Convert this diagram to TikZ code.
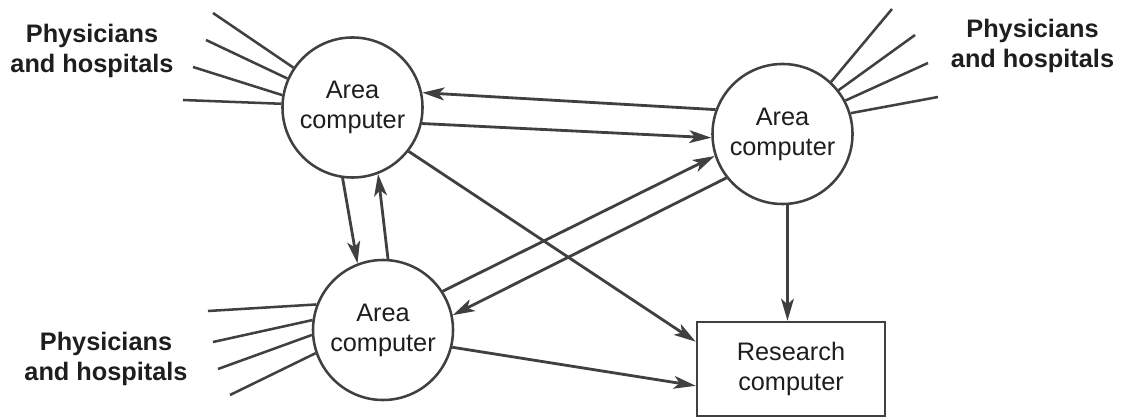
\documentclass[tikz,border=0pt]{standalone}
\usepackage{fontspec}
\setmainfont{Liberation Sans}
\usetikzlibrary{arrows.meta}
\definecolor{ln}{HTML}{404040}
\definecolor{tx}{HTML}{1E1E1E}
\begin{document}
\begin{tikzpicture}[x=0.025cm,y=-0.025cm,
  every node/.style={font=\fontsize{18}{21.3}\selectfont, text=tx, align=center, inner sep=0pt},
  area/.style={circle, draw=ln, line width=1.8pt, minimum size=3.5cm, fill=white},
  research/.style={rectangle, draw=ln, line width=1.8pt, minimum width=4.7cm, minimum height=2.35cm},
  lbl/.style={font=\bfseries\fontsize{18}{21.3}\selectfont},
  fan/.style={draw=ln, line width=1.8pt},
  arr/.style={draw=ln, line width=2pt, -{Stealth[length=0.55cm,width=0.32cm,inset=0.14cm]}}]
\useasboundingbox (0,0) rectangle (1122,418);

\node[area] (A) at (352.5,107.5) {Area\\computer};
\node[area] (B) at (782.5,134) {Area\\computer};
\node[area] (C) at (383,330) {Area\\computer};
\node[research] (R) at (791,369) {Research\\computer};

\node[lbl] (LA) at (92,50.6) {Physicians\\and hospitals};
\node[lbl] (LB) at (1032.5,45.6) {Physicians\\and hospitals};
\node[lbl] (LC) at (106,358.6) {Physicians\\and hospitals};

\coordinate (a1) at (213,13);
\coordinate (a2) at (206,40);
\coordinate (a3) at (193,67);
\coordinate (a4) at (183,100);
\coordinate (b1) at (892,9);
\coordinate (b2) at (915,35);
\coordinate (b3) at (928,63);
\coordinate (b4) at (938,97);
\coordinate (c1) at (208,311);
\coordinate (c2) at (213,342);
\coordinate (c3) at (218,369);
\coordinate (c4) at (230,395);

\draw[fan] (a1) -- (A.146);
\draw[fan] (a2) -- (A.156);
\draw[fan] (a3) -- (A.170);
\draw[fan] (a4) -- (A.177);
\draw[fan] (b1) -- (B.47);
\draw[fan] (b2) -- (B.38);
\draw[fan] (b3) -- (B.28);
\draw[fan] (b4) -- (B.17);
\draw[fan] (c1) -- (C.159);
\draw[fan] (c2) -- (C.172);
\draw[fan] (c3) -- (C.184);
\draw[fan] (c4) -- (C.199);

\draw[arr] (B.160) -- (A.12);
\draw[arr] (A.347) -- (B.183);
\draw[arr] (A.322) -- (R.164);
\draw[arr] (C.346) -- (R.190);
\draw[arr] (A.262) -- (C.111);
\draw[arr] (C.86) -- (A.291);
\draw[arr] (C.33) -- (B.198);
\draw[arr] (B.218) -- (C.12);
\draw[arr] (B.274) -- (B.274 |- R.north);
\end{tikzpicture}
\end{document}
